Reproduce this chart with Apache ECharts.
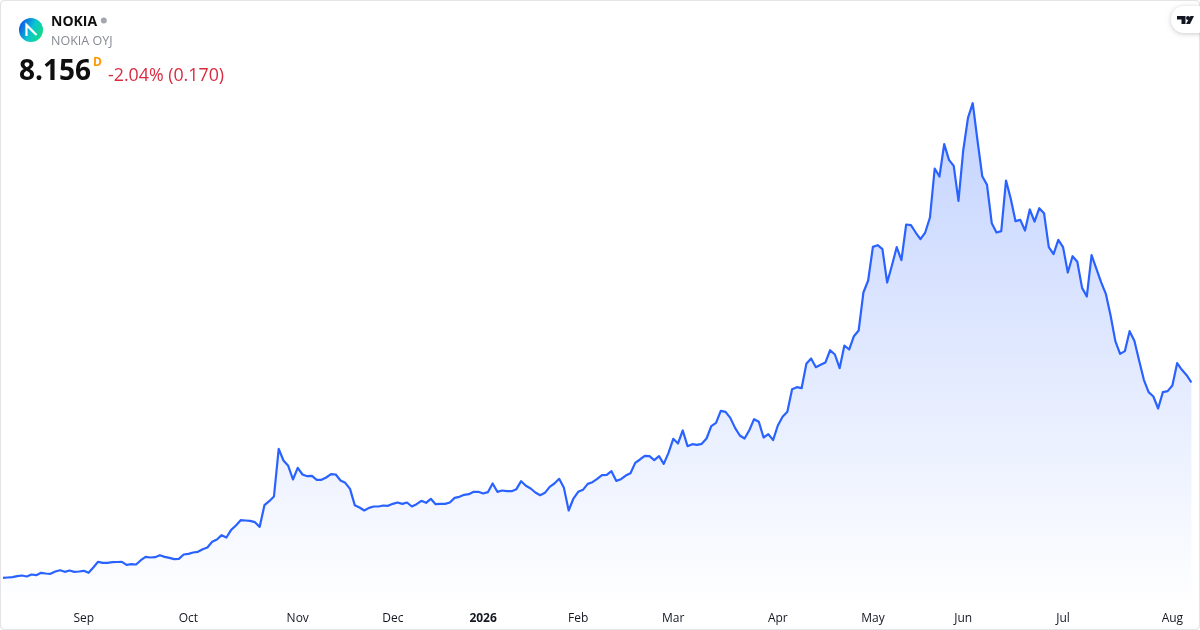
<!DOCTYPE html>
<html><head><meta charset="utf-8">
<style>html,body{margin:0;padding:0;background:#fff}#c{width:1200px;height:630px}</style>
<script src="https://cdn.jsdelivr.net/npm/echarts@6/dist/echarts.min.js"></script>
</head><body><div id="c"></div>
<script>
const closes = [
3.722,3.729,3.737,3.759,3.774,3.752,3.797,3.782,3.835,3.820,3.812,3.865,3.895,3.858,3.888,3.858,3.865,3.880,3.835,3.956,
4.085,4.062,4.062,4.077,4.081,4.085,4.016,4.032,4.024,4.122,4.198,4.183,4.191,4.236,4.198,4.175,4.145,4.153,4.251,4.266,
4.296,4.312,4.372,4.410,4.539,4.592,4.690,4.637,4.811,4.909,5.030,5.023,5.015,4.985,4.879,5.371,5.462,5.568,6.650,6.385,
6.264,5.954,6.218,6.067,6.029,6.037,5.946,5.946,5.999,6.075,6.067,5.931,5.878,5.742,5.371,5.318,5.250,5.310,5.341,5.341,
5.363,5.356,5.401,5.432,5.401,5.432,5.341,5.394,5.469,5.424,5.515,5.394,5.401,5.401,5.432,5.537,5.560,5.606,5.621,5.674,
5.674,5.636,5.666,5.863,5.674,5.704,5.689,5.689,5.734,5.916,5.810,5.749,5.659,5.598,5.651,5.787,5.863,5.969,5.764,5.250,
5.522,5.674,5.719,5.855,5.893,5.969,6.052,6.059,6.143,5.923,5.961,6.044,6.097,6.332,6.408,6.491,6.483,6.392,6.483,6.309,
6.559,6.877,6.771,7.066,6.710,6.756,6.740,6.763,6.884,7.164,7.240,7.512,7.490,7.353,7.126,6.952,6.884,7.073,7.323,7.263,
6.907,6.983,6.846,7.179,7.376,7.490,8.004,8.050,8.027,8.579,8.700,8.503,8.556,8.609,8.889,8.791,8.481,8.995,8.904,9.207,
9.336,10.198,10.471,11.235,11.273,11.182,10.425,10.811,11.228,10.932,11.742,11.727,11.560,11.409,11.560,11.901,13.013,12.832,13.566,13.210,
13.074,12.279,13.422,14.164,14.496,13.649,12.839,12.643,11.772,11.560,11.591,12.741,12.325,11.818,11.848,11.606,12.083,11.810,12.113,11.999,
11.228,11.069,11.394,11.228,10.652,11.023,10.895,10.304,10.108,11.046,10.743,10.433,10.168,9.676,9.094,8.806,8.867,9.321,9.101,8.655,
8.216,7.936,7.838,7.565,7.936,7.959,8.087,8.594,8.443,8.322,8.156
];
const tickLabels = ['Sep','Oct','Nov','Dec','2026','Feb','Mar','Apr','May','Jun','Jul','Aug'];
const tickIndexes = [17,39,62,82,101,121,141,163,183,202,223,246];
const categories = closes.map((_, i) => { const k = tickIndexes.indexOf(i); return k >= 0 ? tickLabels[k] : ''; });
const FONT = '"Open Sans", sans-serif';

const chart = echarts.init(document.getElementById('c'), null, {renderer:'canvas'});
chart.setOption({
  animation:false,
  backgroundColor:'#ffffff',
  grid:{left:2.4,right:8.6,top:0.5,bottom:29.5,containLabel:false},
  xAxis:{
    type:'category',data:categories,boundaryGap:false,
    axisLine:{show:false},axisTick:{show:false},splitLine:{show:false},
    axisLabel:{interval:0,margin:12.5,color:'#131722',fontSize:12,fontFamily:FONT,hideOverlap:false,showMinLabel:true,showMaxLabel:true,
      formatter:v => v === '2026' ? '{y|2026}' : v,
      rich:{y:{fontWeight:'bold',fontSize:12,color:'#131722',fontFamily:FONT}}}
  },
  yAxis:{type:'value',min:3.207,max:16.827,show:false,splitLine:{show:false}},
  series:[{
    type:'line',data:closes,showSymbol:false,symbol:'none',smooth:false,
    lineStyle:{color:'#2962ff',width:2.2,join:'round'},
    areaStyle:{origin:'start',opacity:1,color:new echarts.graphic.LinearGradient(0,0,0,1,[
      {offset:0,color:'rgba(41,98,255,0.28)'},{offset:1,color:'rgba(41,98,255,0.005)'}])}
  }],
  graphic:[
    {type:'rect',silent:true,z:100,shape:{x:0.5,y:0.5,width:1199,height:629,r:4},style:{fill:'none',stroke:'#e4e4e6',lineWidth:1.2}},
    {type:'circle',z:101,shape:{cx:31,cy:30,r:12},style:{fill:new echarts.graphic.LinearGradient(0,0.3,1,0.8,[
      {offset:0,color:'#0a55e6'},{offset:0.5,color:'#0cc4d0'},{offset:1,color:'#14e07a'}])}},
    {type:'polyline',z:102,shape:{points:[[26.5,36],[26.5,25],[36.5,35]]},style:{fill:'none',stroke:'#ffffff',lineWidth:2.2}},
    {type:'text',z:102,style:{x:51,y:22,text:'NOKIA',font:'bold 14px '+FONT,fill:'#0f0f0f',verticalAlign:'middle'}},
    {type:'circle',z:102,shape:{cx:103.8,cy:20.5,r:3},style:{fill:'#a3a6af'}},
    {type:'text',z:102,style:{x:51,y:41,text:'NOKIA OYJ',font:'12.5px '+FONT,fill:'#868993',verticalAlign:'middle'}},
    {type:'text',z:102,style:{x:19,y:72.5,text:'8.156',font:'bold 28px '+FONT,fill:'#0f0f0f',verticalAlign:'middle'}},
    {type:'text',z:102,style:{x:93,y:63,text:'D',font:'bold 12px '+FONT,fill:'#ff9800',verticalAlign:'middle'}},
    {type:'text',z:102,style:{x:108,y:75.5,text:'-2.04% (0.170)',font:'17.8px '+FONT,fill:'#d92c41',verticalAlign:'middle'}},
    {type:'rect',z:103,shape:{x:1171,y:6,width:40,height:27,r:13},style:{fill:'#ffffff',shadowBlur:5,shadowColor:'rgba(0,0,0,0.2)',shadowOffsetY:1}},
    {type:'polygon',z:104,shape:{points:[[1177,16],[1185.5,16],[1185.5,24],[1181.5,24],[1181.5,19.5],[1177,19.5]]},style:{fill:'#131722'}},
    {type:'circle',z:104,shape:{cx:1188,cy:18,r:2},style:{fill:'#131722'}},
    {type:'polygon',z:104,shape:{points:[[1190.5,16],[1194,16],[1190,24],[1186,24]]},style:{fill:'#131722'}}
  ]
});
</script></body></html>
